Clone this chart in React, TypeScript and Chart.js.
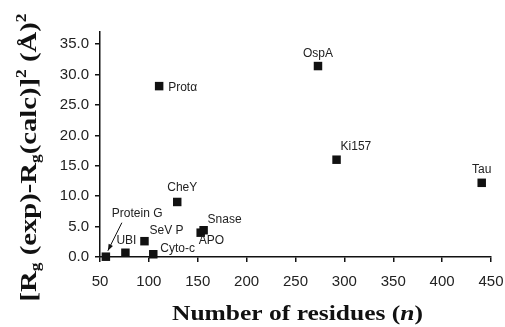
import React, { useEffect, useRef } from "react";
import { Chart, registerables } from "chart.js";

Chart.register(...registerables);

const proteins = ["Protein G", "UBI", "SeV P", "Cyto-c", "CheY", "APO", "Snase", "Protα", "OspA", "Ki157", "Tau"];
const residues = [56, 76, 95.5, 104.5, 129, 153, 156, 110.5, 273, 292, 440.5];
const rgDiff = [0.05, 0.7, 2.6, 0.45, 9.05, 4.0, 4.4, 28.1, 31.4, 16.0, 12.2];
const xTicks = [50, 100, 150, 200, 250, 300, 350, 400, 450];
const yTicks = [0, 5, 10, 15, 20, 25, 30, 35];

// label placement (pixel offsets from the marker), style only
const labelPlacement: { dx: number; dy: number; align: CanvasTextAlign }[] = [
  { dx: 6, dy: -43, align: "left" },
  { dx: -9, dy: -12, align: "left" },
  { dx: 5, dy: -11, align: "left" },
  { dx: 7, dy: -6, align: "left" },
  { dx: 5, dy: -14, align: "center" },
  { dx: -2, dy: 8, align: "left" },
  { dx: 4, dy: -11, align: "left" },
  { dx: 9, dy: 2, align: "left" },
  { dx: 0, dy: -12, align: "center" },
  { dx: 4, dy: -13, align: "left" },
  { dx: 0, dy: -13, align: "center" },
];

type Run = { t: string; font: string; dy: number };

function drawRuns(ctx: CanvasRenderingContext2D, runs: Run[], cx: number, cy: number, targetLen: number) {
  let total = 0;
  for (const r of runs) {
    ctx.font = r.font;
    total += ctx.measureText(r.t).width;
  }
  ctx.save();
  ctx.translate(cx, cy);
  ctx.scale(targetLen / total, 1);
  let x = -total / 2;
  ctx.textAlign = "left";
  ctx.textBaseline = "alphabetic";
  for (const r of runs) {
    ctx.font = r.font;
    ctx.fillText(r.t, x, r.dy);
    x += ctx.measureText(r.t).width;
  }
  ctx.restore();
}

const annotPlugin = {
  id: "annot",
  afterDatasetsDraw(chart: any) {
    const ctx: CanvasRenderingContext2D = chart.ctx;
    const meta = chart.getDatasetMeta(0);
    ctx.save();
    ctx.fillStyle = "#222";
    ctx.font = "12px 'Liberation Sans', Arial, sans-serif";
    ctx.textBaseline = "middle";
    meta.data.forEach((el: any, i: number) => {
      const p = labelPlacement[i];
      ctx.textAlign = p.align;
      ctx.fillText(proteins[i], el.x + p.dx, el.y + p.dy);
    });
    // arrow for Protein G
    const g = meta.data[0];
    const x1 = g.x + 16, y1 = g.y - 34, x2 = g.x + 2, y2 = g.y - 6;
    ctx.strokeStyle = "#111";
    ctx.lineWidth = 1;
    ctx.beginPath();
    ctx.moveTo(x1, y1);
    ctx.lineTo(x2, y2);
    ctx.stroke();
    const ang = Math.atan2(y2 - y1, x2 - x1);
    ctx.fillStyle = "#111";
    ctx.beginPath();
    ctx.moveTo(x2, y2);
    ctx.lineTo(x2 - 7 * Math.cos(ang - 0.35), y2 - 7 * Math.sin(ang - 0.35));
    ctx.lineTo(x2 - 7 * Math.cos(ang + 0.35), y2 - 7 * Math.sin(ang + 0.35));
    ctx.closePath();
    ctx.fill();
    ctx.restore();
  },
  afterDraw(chart: any) {
    const ctx: CanvasRenderingContext2D = chart.ctx;
    const ca = chart.chartArea;
    ctx.save();
    ctx.fillStyle = "#111";
    const fam = "'Liberation Serif', 'Times New Roman', serif";
    drawRuns(
      ctx,
      [
        { t: "Number of residues (", font: `bold 20px ${fam}`, dy: 0 },
        { t: "n", font: `italic bold 20px ${fam}`, dy: 0 },
        { t: ")", font: `bold 20px ${fam}`, dy: 0 },
      ],
      (ca.left + ca.right) / 2 + 2,
      320,
      251
    );
    ctx.translate(36, 157.5);
    ctx.rotate(-Math.PI / 2);
    const B = `bold 23px ${fam}`;
    const S = `bold 14px ${fam}`;
    drawRuns(
      ctx,
      [
        { t: "[R", font: B, dy: 0 },
        { t: "g", font: S, dy: 4 },
        { t: " (exp)-R", font: B, dy: 0 },
        { t: "g", font: S, dy: 4 },
        { t: "(calc)]", font: B, dy: 0 },
        { t: "2", font: S, dy: -10 },
        { t: " (Å)", font: B, dy: 0 },
        { t: "2", font: S, dy: -10 },
      ],
      0,
      0,
      288
    );
    ctx.restore();
  },
};

export default function App() {
  const ref = useRef<HTMLCanvasElement | null>(null);
  useEffect(() => {
    document.body.style.margin = "0";
    if (!ref.current) return;
    const chart = new Chart(ref.current, {
      type: "scatter",
      data: {
        datasets: [
          {
            data: residues.map((x, i) => ({ x, y: rgDiff[i] })),
            pointStyle: "rect",
            pointRadius: 6,
            pointHoverRadius: 6,
            backgroundColor: "#111",
            borderColor: "#111",
            borderWidth: 0,
            clip: false as any,
          },
        ],
      },
      options: {
        animation: false,
        responsive: false,
        events: [],
        layout: { padding: { top: 32, right: 14, left: 0, bottom: 0 } },
        plugins: { legend: { display: false }, tooltip: { enabled: false } },
        scales: {
          x: {
            type: "linear",
            min: 50,
            max: 450,
            afterBuildTicks: (s: any) => {
              s.ticks = xTicks.map((v) => ({ value: v }));
            },
            afterFit: (s: any) => {
              s.height = 70;
              s.paddingLeft = 0;
              s.paddingRight = 0;
            },
            ticks: {
              color: "#222",
              padding: 11,
              maxRotation: 0,
              font: { family: "'Liberation Sans', Arial, sans-serif", size: 15 },
              callback: (v: any) => String(v),
            },
            grid: { drawOnChartArea: false, drawTicks: true, tickLength: 5, color: "#111", lineWidth: 1.5 },
            border: { display: true, color: "#111", width: 1.5 },
          },
          y: {
            type: "linear",
            min: 0,
            max: 37,
            afterBuildTicks: (s: any) => {
              s.ticks = yTicks.map((v) => ({ value: v }));
            },
            afterFit: (s: any) => {
              s.width = 100;
              s.paddingTop = 0;
              s.paddingBottom = 0;
            },
            ticks: {
              color: "#222",
              padding: 6,
              font: { family: "'Liberation Sans', Arial, sans-serif", size: 15 },
              callback: (v: any) => Number(v).toFixed(1),
            },
            grid: { drawOnChartArea: false, drawTicks: true, tickLength: 5, color: "#111", lineWidth: 1.5 },
            border: { display: true, color: "#111", width: 1.5 },
          },
        },
      },
      plugins: [annotPlugin],
    });
    return () => chart.destroy();
  }, []);
  return (
    <div style={{ position: "absolute", left: 0, top: 0, width: 505, height: 327, background: "#fff" }}>
      <canvas ref={ref} width={505} height={327} style={{ width: 505, height: 327, display: "block" }} />
    </div>
  );
}
